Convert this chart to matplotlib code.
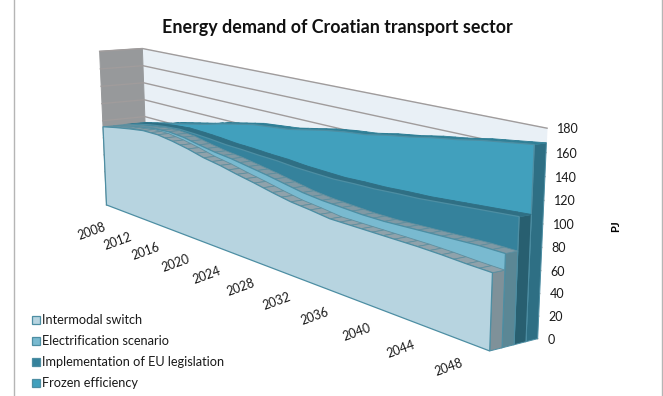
import numpy as np
import matplotlib
matplotlib.use("Agg")
import matplotlib.pyplot as plt

years = np.arange(2008, 2051, 2)
intermodal = [93, 96.5, 99.5, 102, 102, 99.5, 96, 91.5, 88.5, 84.5, 81, 77, 73.5, 71.5, 69, 69, 69, 69, 69, 68.5, 67.5, 67]
electrification = [93, 96.5, 100, 103, 104, 102.5, 99, 96, 94, 91, 88, 84.5, 81, 79, 78, 77, 77, 78, 79, 80, 81, 81]
implementation = [93, 98, 101.5, 104, 105.5, 105, 104, 102.5, 102, 101, 100.5, 99, 98.5, 98, 99, 99.5, 101, 102, 104, 106, 108, 110]
frozen = [93, 97, 101, 106, 110, 114, 119, 123, 127, 129, 131, 135, 139, 142, 144, 148, 151, 155, 158, 162, 165, 168]

series_names = ["Intermodal switch", "Electrification scenario",
                "Implementation of EU legislation", "Frozen efficiency"]
series_values = [intermodal, electrification, implementation, frozen]
face_colors = ["#b7d4e0", "#79bad0", "#35829c", "#41a0bd"]
side_colors = ["#7f9199", "#5b8795", "#285f70", "#2e6f84"]
ribbon_colors = ["#8fa2ab", "#7f99a4", "#2f6f84", "#2f7f96"]
edge_color = "#4d8ea3"
year_ticks = np.arange(2008, 2049, 4)
value_ticks = np.arange(0, 181, 20)

# Perspective camera of the box, solved from reference points of the box:
# (share of time span, share of depth, share of value range) -> canvas position
anchors = [
    (0, 0, 0, 107, 203), (0, 0, 1, 99, 52), (1, 0, 0, 489, 353),
    (1, 1, 0, 538, 337), (1, 1, 1, 547, 128), (0, 1, 1, 143, 48),
    (0, 1, 0, 147, 201), (20 / 42, 0, 0, 256, 261.5),
]
rows = []
for t, d, z, px, py in anchors:
    px, py = px / 500, py / 500
    rows.append([t, d, z, 1, 0, 0, 0, 0, -px * t, -px * d, -px * z, -px])
    rows.append([0, 0, 0, 0, t, d, z, 1, -py * t, -py * d, -py * z, -py])
camera = np.linalg.svd(np.array(rows, float))[2][-1].reshape(3, 4)


def project(year, depth, value):
    year, depth, value = np.broadcast_arrays(np.asarray(year, float), np.asarray(depth, float), np.asarray(value, float))
    pts = np.stack([(year - 2008) / 42, depth, value / 180, np.ones_like(year)]).reshape(4, -1)
    u, v, w = camera @ pts
    return u / w * 500, v / w * 500


def quad(ax, corners, face, edge=None, lw=0.7, zorder=2):
    xs = [project(*c)[0][0] for c in corners]
    ys = [project(*c)[1][0] for c in corners]
    ax.fill(xs, ys, facecolor=face, edgecolor=edge or face, linewidth=lw, zorder=zorder)


plt.rcParams["font.family"] = ["Lato", "DejaVu Sans"]
fig = plt.figure(figsize=(6.63, 3.96), dpi=100)
ax = fig.add_axes([0, 0, 1, 1])
ax.set_xlim(0, 663)
ax.set_ylim(396, 0)
ax.axis("off")

# Chart frame
ax.plot([13.5, 13.5], [0, 396], color="#b5b5b5", lw=1)
ax.plot([662, 662], [0, 396], color="#b5b5b5", lw=1)

# Walls and gridlines
quad(ax, [(2008, 1, 0), (2050, 1, 0), (2050, 1, 180), (2008, 1, 180)], "#e9f0f6")
quad(ax, [(2008, 0, 0), (2008, 1, 0), (2008, 1, 180), (2008, 0, 180)], "#97999b")
for tick in value_ticks:
    gx, gy = project([2008, 2008, 2050], [0, 1, 1], tick)
    ax.plot(gx, gy, color="#a09c9c", lw=1, zorder=2.5)

# Series from the back of the box to the front
for i in range(3, -1, -1):
    vals = np.asarray(series_values[i], float)
    front, back = i / 4, (i + 1) / 4
    level = 3 + (3 - i)

    # right end of the band
    quad(ax, [(2050, front, 0), (2050, back, 0), (2050, back, vals[-1]), (2050, front, vals[-1])],
         side_colors[i], edge_color, zorder=level)

    # top surface, cut into cells
    for j in range(len(years) - 1):
        y0, y1 = years[j], years[j + 1]
        v0, v1 = vals[j], vals[j + 1]
        ym, vm = (y0 + y1) / 2, (v0 + v1) / 2
        for a, b, c, e in ((y0, ym, v0, vm), (ym, y1, vm, v1)):
            quad(ax, [(a, front, c), (b, front, e), (b, back, e), (a, back, c)],
                 ribbon_colors[i], "#5f8f9f" if i < 2 else ribbon_colors[i], lw=0.6, zorder=level)

    # front face
    fx, fy = project(years, front, vals)
    bx, by = project(years[::-1], front, 0 * vals)
    ax.fill(np.r_[fx, bx], np.r_[fy, by], facecolor=face_colors[i],
            edgecolor=edge_color, linewidth=0.9, zorder=level + 0.5)

# Value axis labels on the right edge
for tick in value_ticks:
    tx, ty = project(2050, 1, tick)
    ax.text(tx[0] + 10, ty[0] + 1, str(tick), fontsize=9, color="#1a1a1a", ha="left", va="center", zorder=10)

# Year labels below the front edge
for yr in year_ticks:
    tx, ty = project(yr, 0, 0)
    ax.text(tx[0] - 15, ty[0] + 26, str(yr), fontsize=9, rotation=20, rotation_mode="anchor",
            color="#1a1a1a", ha="center", va="center", zorder=10)

ax.text(337.5, 27, "Energy demand of Croatian transport sector", fontsize=12.9, fontweight="bold",
        ha="center", va="center", color="#111111", zorder=10)
ax.text(616, 226, "PJ", fontsize=8, fontweight="bold", rotation=90, ha="center", va="center", zorder=10)

# Legend
for row, (name, col) in enumerate(zip(series_names, face_colors)):
    y = 320 + 21 * row
    ax.fill([32, 39.5, 39.5, 32], [y - 4, y - 4, y + 4, y + 4], facecolor=col, edgecolor=edge_color, lw=0.9, zorder=10)
    ax.text(42.5, y, name, fontsize=9.2, color="#1a1a1a", ha="left", va="center", zorder=10)

fig.savefig("out.png", dpi=100)
